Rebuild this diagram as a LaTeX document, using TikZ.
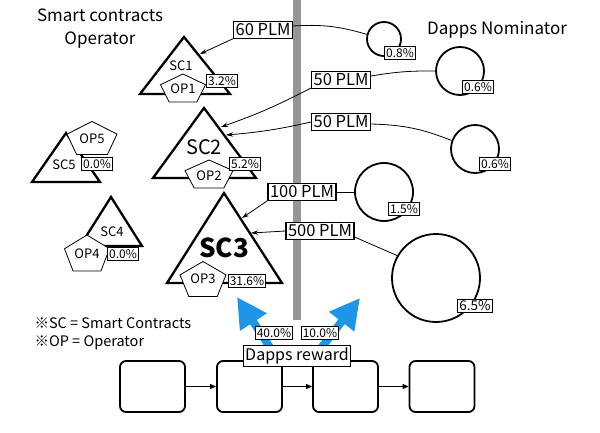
\documentclass[tikz,border=0pt]{standalone}
\usepackage{fontspec}
\setmainfont{Noto Sans CJK JP}
\usetikzlibrary{
    arrows.meta,
    shapes.geometric,
}
\definecolor{rewardblue}{RGB}{30,150,232}
\definecolor{bargray}{RGB}{150,150,150}

\begin{document}
\begin{tikzpicture}[x=1pt, y=-1pt,
    every node/.style={font=\fontsize{15}{18}\selectfont},
    tri/.style={line width=2.3pt, line join=miter},
    pct/.style={draw, fill=white, line width=0.8pt, inner sep=1.6pt,
        font=\fontsize{12}{12}\selectfont},
    plm/.style={draw, fill=white, line width=1.1pt, inner sep=2pt,
        font=\fontsize{16.5}{17}\selectfont},
    nom/.style={circle, draw, line width=1.8pt},
    link/.style={line width=0.8pt},
    feed/.style={line width=0.8pt, -{Stealth[length=7pt, width=4.5pt]}},
    block/.style={draw, rounded corners=6pt, line width=1.8pt,
        minimum width=65pt, minimum height=51pt},
    reward/.style={line width=8pt, rewardblue,
        -{Triangle[length=30pt, width=30pt]}},
    pentagon/.pic={\draw[fill=white, line width=0.8pt]
        (0,-0.5) -- (0.5,-0.118) -- (0.309,0.5) -- (-0.309,0.5)
        -- (-0.5,-0.118) -- cycle;},
]
\useasboundingbox (0,0) rectangle (600,433);

% =============================================================================
% Titles, legend and the divider
% =============================================================================
\node[align=center, font=\fontsize{17}{23}\selectfont] (sctitle) at (100,29)
    {Smart contracts\\Operator};
\node[font=\fontsize{17}{20}\selectfont] (nomtitle) at (497,30) {Dapps Nominator};

\node[anchor=west, font=\fontsize{14.5}{18}\selectfont] (legsc) at (31,323)
    {※SC = Smart Contracts};
\node[anchor=west, font=\fontsize{14.5}{18}\selectfont] (legop) at (31,343)
    {※OP = Operator};

\fill[bargray] (293,0) rectangle (301,320);

% =============================================================================
% Reward arrows
% =============================================================================
\coordinate (tipleft) at (237,297);
\coordinate (tipright) at (360,298);
\draw[reward] (273,352) -- (tipleft);
\draw[reward] (318,352) -- (tipright);

% =============================================================================
% Smart contracts and operators
% =============================================================================
% SC1
\draw[tri] (184,37) -- (230,94) -- (140,94) -- cycle;
\node[font=\fontsize{13}{13}\selectfont] (sc1) at (181,66) {SC1};
\pic[xscale=45, yscale=28] at (183,88) {pentagon};
\node[font=\fontsize{13}{13}\selectfont] (op1) at (183,89) {OP1};
\node[pct] (pc1) at (222,81) {3.2\%};
\coordinate (sc1in) at (200,54);

% SC2
\draw[tri] (204,108) -- (256,178) -- (153,178) -- cycle;
\node[font=\fontsize{20}{20}\selectfont] (sc2) at (204,147) {SC2};
\pic[xscale=48, yscale=28] at (209,174) {pentagon};
\node[font=\fontsize{13}{13}\selectfont] (op2) at (209,176) {OP2};
\node[pct] (pc2) at (245,164) {5.2\%};
\coordinate (sc2ina) at (221,127);
\coordinate (sc2inb) at (226,135);

% SC3
\draw[tri] (224,193) -- (282,283) -- (167,283) -- cycle;
\node[font=\fontsize{26}{26}\bfseries] (sc3) at (224,248) {SC3};
\pic[xscale=46, yscale=35] at (203,279) {pentagon};
\node[font=\fontsize{13}{13}\selectfont] (op3) at (203,279) {OP3};
\node[pct] (pc3) at (247,281) {31.6\%};
\coordinate (sc3ina) at (242,218);
\coordinate (sc3inb) at (251,233);

% SC5
\draw[tri] (66,133) -- (100,182) -- (32,182) -- cycle;
\pic[xscale=50, yscale=33] at (92,138) {pentagon};
\node[font=\fontsize{13}{13}\selectfont] (op5) at (92,139) {OP5};
\node[font=\fontsize{13}{13}\selectfont] (sc5) at (64,165) {SC5};
\node[pct] (pc5) at (97,164) {0.0\%};

% SC4
\draw[tri] (111,197) -- (142,246) -- (80,246) -- cycle;
\node[font=\fontsize{13}{13}\selectfont] (sc4) at (112,232) {SC4};
\pic[xscale=45, yscale=36] at (87,253) {pentagon};
\node[font=\fontsize{13}{13}\selectfont] (op4) at (87,254) {OP4};
\node[pct] (pc4) at (123,254) {0.0\%};

% =============================================================================
% Nominators and their stakes
% =============================================================================
\node[nom, minimum size=34pt] (n1) at (384,39) {};
\node[nom, minimum size=48pt] (n2) at (460,71) {};
\node[nom, minimum size=48pt] (n3) at (475,149) {};
\node[nom, minimum size=58pt] (n4) at (384,192) {};
\node[nom, minimum size=88pt] (n5) at (436,278) {};

\node[pct] (q1) at (400,53) {0.8\%};
\node[pct] (q2) at (478,87) {0.6\%};
\node[pct] (q3) at (495,164) {0.6\%};
\node[pct, font=\fontsize{13.5}{13}\selectfont] (q5) at (475,306) {6.5\%};
\node[pct] (q4) at (404,209) {1.5\%};

\node[plm] (s1) at (263,30) {60 PLM};
\node[plm] (s2) at (341,80) {50 PLM};
\node[plm] (s3) at (341,122) {50 PLM};
\node[plm] (s4) at (302,192) {100 PLM};
\node[plm] (s5) at (320,231) {500 PLM};

% nominator to stake label
\draw[link] ([yshift=4pt]s1.east) to[bend left=10] (n1.165);
\draw[link] ([yshift=4pt]s2.east) to[bend left=5] (n2.west);
\draw[link] ([yshift=-2pt]s3.east) to[bend left=10] (n3.160);
\draw[link] (s4.east) -- (n4.west |- s4.east);
\draw[link] ([yshift=-6pt]s5.east) -- (n5.150);

% stake label to contract
\draw[feed] (s1.south west) -- (sc1in);
\draw[feed] ([yshift=-8pt]s2.west) to[bend left=4] (sc2ina);
\draw[feed] (s3.west) to[bend left=4] (sc2inb);
\draw[feed] (s4.south west) -- (sc3ina);
\draw[feed] (s5.west) -- (sc3inb);

% =============================================================================
% Chain and dapps reward
% =============================================================================
\node[pct] (r1) at (274,333) {40.0\%};
\node[pct] (r2) at (320,333) {10.0\%};

\node[block] (b1) at (152.5,386.5) {};
\node[block] (b2) at (249.5,386.5) {};
\node[block] (b3) at (345.5,386.5) {};
\node[block] (b4) at (442,386.5) {};
\foreach \a/\b in {b1/b2, b2/b3, b3/b4}
    \draw[line width=1pt, -{Triangle[length=6pt, width=5pt]}] (\a) -- (\b);

\node[draw, fill=white, line width=1pt, inner sep=2pt,
    font=\fontsize{16}{18}\selectfont] (rw) at (297,356) {Dapps reward};

\end{tikzpicture}
\end{document}
